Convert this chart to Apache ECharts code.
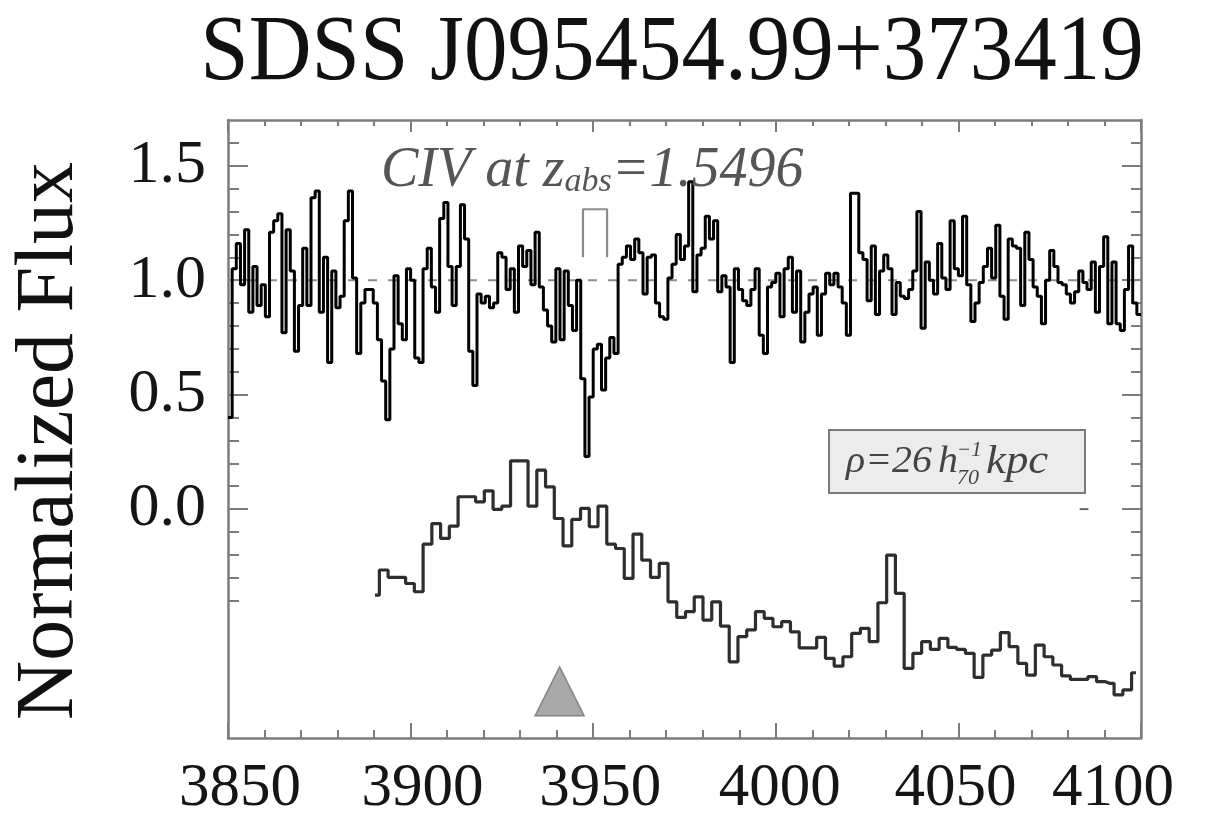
<!DOCTYPE html>
<html><head><meta charset="utf-8">
<script src="https://cdn.jsdelivr.net/npm/echarts@6/dist/echarts.min.js"></script>
<style>html,body{margin:0;padding:0;background:#fff}#c{width:1217px;height:832px}</style>
</head><body><div id="c"></div>
<script>
// ---- data ----
const xTickLabels = [3850, 3900, 3950, 4000, 4050, 4100];
const yTickLabels = [0.0, 0.5, 1.0, 1.5];
const yMinorTicks = [-0.4, -0.3, -0.2, -0.1, 0.1, 0.2, 0.3, 0.4, 0.6, 0.7, 0.8, 0.9, 1.1, 1.2, 1.3, 1.4, 1.6];

// background quasar spectrum (normalized flux), bins starting at 3850 A
const qsoStart = 3850;
const qsoStep = 250 / 220;
const qsoFlux = [
  0.40, 1.05, 1.16, 0.98, 1.22, 0.86, 1.06, 0.89, 0.98, 0.84,
  1.21, 1.26, 1.29, 0.77, 1.22, 1.04, 0.69, 0.89, 1.14, 0.89,
  1.36, 1.39, 0.86, 1.10, 0.64, 1.04, 0.88, 0.93, 1.26, 1.39,
  1.01, 0.68, 0.90, 0.96, 0.96, 0.90, 0.74, 0.56,
  0.39, 0.70, 1.02, 0.81, 0.74, 1.05, 1.00, 0.66, 0.64, 1.05,
  1.14, 0.97, 0.86, 1.27, 1.34, 1.06, 0.89, 1.06, 1.33, 1.18,
  0.69, 0.54, 0.94, 0.90, 0.93, 0.88, 0.90, 1.12, 1.10, 0.96,
  1.05, 0.86, 1.15, 1.06, 1.13, 0.98,
  1.21, 0.97, 0.87, 0.80, 0.73, 1.05, 0.74, 1.04, 0.89, 0.78,
  1.00, 0.57, 0.23, 0.49, 0.70, 0.72, 0.52, 0.66, 0.75, 0.68,
  1.07, 1.10, 1.15, 1.09, 1.18, 1.12, 0.94, 1.10, 1.11, 0.90,
  0.84, 0.83, 1.01, 1.07, 1.20, 1.09,
  1.15, 1.43, 0.95, 1.11, 1.14, 1.28, 1.18, 1.26, 0.95, 1.02,
  0.97, 0.64, 1.05, 0.96, 0.91, 0.89, 0.96, 1.05, 0.76, 0.68,
  0.97, 0.99, 1.03, 0.84, 1.05, 1.10, 0.86, 1.04, 0.73, 0.86,
  0.94, 0.97, 0.76, 0.94, 1.03, 0.98,
  1.03, 0.97, 0.90, 0.76, 1.38, 1.38, 1.12, 1.09, 0.91, 1.15,
  0.85, 1.04, 1.11, 1.05, 0.85, 0.99, 0.93, 0.92, 0.96, 1.04,
  1.30, 0.79, 1.08, 1.00, 0.94, 1.16, 1.01, 0.96, 1.26, 1.05,
  1.02, 1.28, 0.98, 0.82, 0.90, 0.99,
  1.06, 1.14, 1.01, 1.24, 0.93, 0.83, 1.18, 1.15, 1.14, 0.89,
  1.21, 1.09, 0.97, 0.93, 0.81, 1.00, 1.13, 1.06, 0.99, 0.98,
  0.94, 0.90, 0.95, 1.04, 0.99, 0.96, 1.08, 0.86, 1.06, 1.19,
  0.81, 1.08, 0.81, 0.78, 0.96, 1.15, 0.90, 0.85
];

// foreground spectrum (scaled, offset), bin centres
const fgStart = 3890.25;
const fgStep = 2.395;
const fgFlux = [
  -0.376, -0.266, -0.298, -0.298, -0.325, -0.361, -0.153, -0.063, -0.128, -0.074,
  0.054, 0.054, 0.032, 0.080, -0.001, 0.013, 0.211, 0.211, 0.013, 0.170,
  0.097, -0.041, -0.161, -0.045, 0.003, -0.077, 0.013, -0.153, -0.172, -0.303,
  -0.109, -0.223, -0.298, -0.237, -0.405, -0.473,
  -0.448, -0.383, -0.485, -0.405, -0.511, -0.667, -0.557, -0.528, -0.448, -0.477,
  -0.514, -0.492, -0.536, -0.606, -0.606, -0.560, -0.652, -0.686, -0.645, -0.543,
  -0.521, -0.579, -0.409, -0.201, -0.368, -0.696, -0.630, -0.579, -0.613, -0.565,
  -0.604, -0.613, -0.630, -0.735, -0.638, -0.616, -0.540, -0.601, -0.674, -0.725,
  -0.594, -0.645, -0.681, -0.729, -0.744, -0.744, -0.732, -0.754, -0.761, -0.812,
  -0.790, -0.715
];

const continuumLevel = 1.0;
const civWave = [3947.2, 3953.8];      // C IV doublet at z_abs = 1.5496
const civBracket = [1.10, 1.31];       // bracket bottom / top
const markerWave = [3940.8];
const markerFlux = [-0.796];
const zeroDashWave = [4083.2, 4085.6];

// ---- build series data ----
const qsoData = qsoFlux.map((v, i) => [qsoStart + i * qsoStep, v]);
qsoData.push([xTickLabels[xTickLabels.length - 1], qsoFlux[qsoFlux.length - 1]]);
const fgData = fgFlux.map((v, i) => [fgStart + i * fgStep, v]);

const FONT = '"Liberation Serif", "Times New Roman", serif';
const AX = '#7c7c7c';
const X0 = xTickLabels[0], X1 = xTickLabels[xTickLabels.length - 1];
const YMIN = -1.0, YMAX = 1.7;

// small horizontal nudges of the x tick labels, as placed in the original figure
const labelNudge = { 3850: 12, 3900: 12, 3950: 7, 4000: 4, 4050: -3, 4100: -28 };
const xRich = {};
xTickLabels.forEach((v, i) => {
  const d = labelNudge[v] || 0;
  xRich['l' + i] = {
    fontFamily: FONT, fontSize: 61, color: '#151515',
    padding: d >= 0 ? [0, 0, 0, 2 * d] : [0, -2 * d, 0, 0]
  };
});

function xAxisDef(pos, major, minor, labels) {
  return {
    type: 'value', position: pos, min: X0, max: X1, interval: 50,
    axisLine: { show: true, onZero: false, lineStyle: { color: AX, width: 2.5 } },
    axisTick: { show: true, inside: true, length: major, lineStyle: { color: AX, width: 2 } },
    minorTick: { show: true, splitNumber: 5, length: minor, lineStyle: { color: AX, width: 2 } },
    splitLine: { show: false }, minorSplitLine: { show: false },
    axisLabel: { show: labels, fontFamily: FONT, fontSize: 61, color: '#151515', margin: 20,
      formatter: v => '{l' + xTickLabels.indexOf(v) + '|' + v + '}', rich: xRich }
  };
}
function yAxisDef(pos, ticks, len, line, labels) {
  return {
    type: 'value', position: pos, min: YMIN, max: YMAX,
    axisLine: { show: line, onZero: false, lineStyle: { color: AX, width: 2.5 } },
    axisTick: { show: true, inside: true, length: len, customValues: ticks, lineStyle: { color: AX, width: 2 } },
    splitLine: { show: false },
    axisLabel: { show: labels, customValues: yTickLabels, fontFamily: FONT, fontSize: 62, color: '#151515', margin: 22,
      formatter: v => v.toFixed(1) }
  };
}

const chart = echarts.init(document.getElementById('c'), null, { renderer: 'canvas' });
chart.setOption({
  animation: false,
  backgroundColor: '#fff',
  grid: { left: 228, right: 76, top: 120, bottom: 94 },
  xAxis: [xAxisDef('bottom', 15, 8, true), xAxisDef('top', 12, 6, false)],
  yAxis: [
    yAxisDef('left', yTickLabels, 20, true, true),
    yAxisDef('left', yMinorTicks, 11, false, false),
    yAxisDef('right', yTickLabels, 19, true, false),
    yAxisDef('right', yMinorTicks, 10, false, false)
  ],
  series: [
    { type: 'line', data: [[X0, continuumLevel], [X1, continuumLevel]], symbol: 'none', z: 1,
      lineStyle: { color: '#8c8c8c', width: 2, type: [9, 11] } },
    { type: 'line', data: qsoData, step: 'end', symbol: 'none', z: 3,
      lineStyle: { color: '#000', width: 3 } },
    { type: 'line', data: fgData, step: 'middle', symbol: 'none', z: 3,
      lineStyle: { color: '#2e2e2e', width: 3.2 } },
    { type: 'line', symbol: 'none', z: 2,
      data: [[civWave[0], civBracket[0]], [civWave[0], civBracket[1]], [civWave[1], civBracket[1]], [civWave[1], civBracket[0]]],
      lineStyle: { color: '#8c8c8c', width: 2.2 } },
    { type: 'line', symbol: 'none', z: 2,
      data: [[zeroDashWave[0], 0], [zeroDashWave[1], 0]],
      lineStyle: { color: '#666', width: 2 } },
    { type: 'scatter', symbol: 'triangle', symbolSize: 49, z: 2,
      data: markerWave.map((w, i) => [w, markerFlux[i]]),
      itemStyle: { color: '#a9a9a9', borderColor: '#858585', borderWidth: 1.5, opacity: 1 } }
  ],
  graphic: [
    { type: 'text', x: 672, y: 55, scaleY: 1.06,
      style: { text: 'SDSS J095454.99+373419', fontFamily: FONT, fontSize: 87, fill: '#111', align: 'center', verticalAlign: 'middle' } },
    { type: 'text', x: 50, y: 441, rotation: Math.PI / 2,
      style: { text: 'Normalized Flux', fontFamily: FONT, fontSize: 82, fill: '#111', align: 'center', verticalAlign: 'middle' } },
    { type: 'text', x: 381, y: 139, z: 10,
      style: {
        text: '{m|CIV at z}{s|abs}{m|=1.5496}', align: 'left', verticalAlign: 'top',
        rich: {
          m: { fontFamily: FONT, fontStyle: 'italic', fontSize: 56, lineHeight: 60, fill: '#555', verticalAlign: 'bottom' },
          s: { fontFamily: FONT, fontStyle: 'italic', fontSize: 34, lineHeight: 22, fill: '#555', verticalAlign: 'bottom' }
        }
      } },
    { type: 'rect', shape: { x: 829, y: 430, width: 256, height: 63 }, z: 5,
      style: { fill: '#ececec', stroke: '#7a7a7a', lineWidth: 2 } },
    { type: 'text', x: 846, y: 462, z: 6, scaleX: 1.05,
      style: { text: 'ρ=26', fontFamily: FONT, fontStyle: 'italic', fontSize: 38, fill: '#444', align: 'left', verticalAlign: 'middle' } },
    { type: 'text', x: 938, y: 462, z: 6, scaleX: 1.05,
      style: { text: 'h', fontFamily: FONT, fontStyle: 'italic', fontSize: 38, fill: '#444', align: 'left', verticalAlign: 'middle' } },
    { type: 'text', x: 957, y: 450, z: 6,
      style: { text: '−1', fontFamily: FONT, fontStyle: 'italic', fontSize: 21, fill: '#444', align: 'left', verticalAlign: 'middle' } },
    { type: 'text', x: 957, y: 478, z: 6,
      style: { text: '70', fontFamily: FONT, fontStyle: 'italic', fontSize: 22, fill: '#444', align: 'left', verticalAlign: 'middle' } },
    { type: 'text', x: 986, y: 462, z: 6, scaleX: 1.12,
      style: { text: 'kpc', fontFamily: FONT, fontStyle: 'italic', fontSize: 40, fill: '#444', align: 'left', verticalAlign: 'middle' } }
  ]
});
</script>
</body></html>
